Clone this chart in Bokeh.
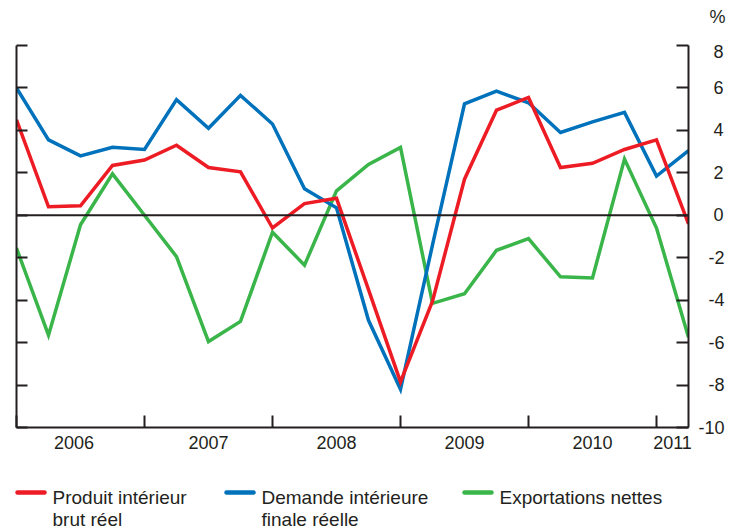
from bokeh.plotting import figure
from bokeh.models import FixedTicker, LinearAxis, Range1d, Span
from bokeh.layouts import column
from bokeh.embed import file_html
from bokeh.resources import INLINE
from bokeh.core.properties import value

# Quarterly data, 2006Q1 .. 2011Q2 (annualised % change)
quarters = list(range(22))
gdp = [4.5, 0.4, 0.45, 2.35, 2.6, 3.3, 2.25, 2.05, -0.6, 0.55, 0.8, -3.5,
       -7.85, -4.05, 1.7, 4.95, 5.55, 2.25, 2.45, 3.1, 3.55, -0.4]
domestic = [6.0, 3.55, 2.8, 3.2, 3.1, 5.45, 4.1, 5.65, 4.3, 1.25, 0.35, -4.95,
            -8.2, -1.4, 5.25, 5.85, 5.3, 3.9, 4.4, 4.85, 1.85, 3.05]
net_exports = [-1.55, -5.65, -0.45, 1.95, 0.0, -1.95, -5.95, -5.0, -0.8, -2.35, 1.15, 2.4,
               3.2, -4.15, -3.7, -1.65, -1.1, -2.9, -2.95, 2.65, -0.6, -5.75]

year_labels = ["2006", "2007", "2008", "2009", "2010", "2011"]
year_label_pos = [1.8, 6, 10, 14, 18, 20.5]
year_bounds = [0, 4, 8, 12, 16, 20]
y_ticks = [-10, -8, -6, -4, -2, 0, 2, 4, 6, 8]
unit_label = "%"

series_names = ["Produit intérieur\nbrut réel", "Demande intérieure\nfinale réelle", "Exportations nettes"]
colors = ["#ED1C24", "#0072BC", "#3AB54A"]

FONT = "Liberation Sans"
INK = "#231F20"
FIG = "\u2007"   # figure space (digit width)
PUN = "\u2008"   # punctuation space


def right_aligned(t):
    s = str(t)
    if t <= -10:
        return s
    if t < 0:
        return FIG + s
    return FIG + PUN + s


def strip(h):
    f = figure(width=733, height=h, x_range=Range1d(0, 733), y_range=Range1d(h, 0),
               output_backend="svg", toolbar_location=None, title=None,
               x_axis_location=None, y_axis_location=None,
               min_border_left=0, min_border_right=0, min_border_top=0, min_border_bottom=0)
    f.grid.visible = False
    f.outline_line_color = None
    f.frame_align = False
    return f


# top strip holding the unit label
top = strip(41)
top.text(x=[725], y=[16], text=[unit_label], text_font=value(FONT), text_font_size=value("18px"),
         text_color=INK, text_align="right", text_baseline="middle")

p = figure(frame_width=672, frame_height=382, x_range=Range1d(0, 21), y_range=Range1d(-10, 8),
           output_backend="svg", toolbar_location=None, y_axis_location="right", title=None,
           min_border_left=16, min_border_right=45, min_border_top=4, min_border_bottom=41)
p.grid.visible = False
p.outline_line_color = None
p.frame_align = False

# bottom axis: ticks at year boundaries (minor), labels centred in each year (major)
xa = p.xaxis[0]
xa.ticker = FixedTicker(ticks=year_label_pos, minor_ticks=year_bounds)
xa.major_label_overrides = {k: v for k, v in zip(year_label_pos, year_labels)}
xa.major_tick_in = 0
xa.major_tick_out = 0
xa.minor_tick_in = 12
xa.minor_tick_out = 0
xa.minor_tick_line_width = 2
xa.minor_tick_line_color = INK
xa.axis_line_width = 2
xa.axis_line_color = INK
xa.major_label_standoff = 8
xa.major_label_text_font = FONT
xa.major_label_text_font_size = "18px"
xa.major_label_text_color = INK

# right axis with labels
ya = p.yaxis[0]
ya.ticker = FixedTicker(ticks=y_ticks)
ya.major_label_overrides = {t: right_aligned(t) for t in y_ticks}
ya.major_tick_in = 12
ya.major_tick_out = 0
ya.minor_tick_in = 0
ya.minor_tick_out = 0
ya.major_tick_line_width = 2
ya.major_tick_line_color = INK
ya.axis_line_width = 2
ya.axis_line_color = INK
ya.major_label_standoff = 10
ya.major_label_text_font = FONT
ya.major_label_text_font_size = "18px"
ya.major_label_text_color = INK

# left axis (ticks only)
la = LinearAxis(ticker=FixedTicker(ticks=y_ticks), major_tick_in=11, major_tick_out=0,
                minor_tick_in=0, minor_tick_out=0, major_tick_line_width=2,
                major_tick_line_color=INK, axis_line_width=2, axis_line_color=INK,
                major_label_overrides={t: "" for t in y_ticks}, major_label_standoff=0)
p.add_layout(la, "left")

p.add_layout(Span(location=0, dimension="width", line_color=INK, line_width=2))

for ys, c in zip([net_exports, domestic, gdp], [colors[2], colors[1], colors[0]]):
    p.line(quarters, ys, line_color=c, line_width=3.5, line_join="miter")

# legend strip
lf = strip(61)
leg_line_x = [17, 226, 464]
leg_text_x = [52, 261, 499]
for name, c, x0, tx in zip(series_names, colors, leg_line_x, leg_text_x):
    lf.segment(x0=[x0], y0=[24], x1=[x0 + 27], y1=[24], line_color=c, line_width=4.5, line_cap="round")
    lines = name.split("\n")
    lf.text(x=[tx] * len(lines), y=[29 + 22 * i for i in range(len(lines))], text=lines,
            text_font=value(FONT), text_font_size=value("19px"), text_color=INK,
            text_baseline="middle", text_align="left")

layout = column(top, p, lf, spacing=0)
open("out.html", "w").write(file_html(layout, INLINE))
